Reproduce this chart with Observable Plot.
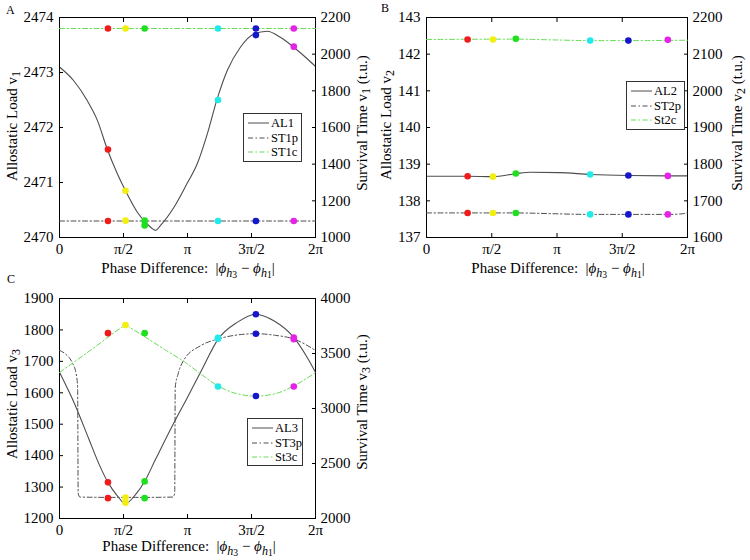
<!DOCTYPE html>
<html><head><meta charset="utf-8">
<script src="https://cdn.jsdelivr.net/npm/d3@7"></script>
<script src="https://cdn.jsdelivr.net/npm/@observablehq/plot@0.6"></script>
<style>
html,body{margin:0;padding:0;background:#fff}
#root{position:relative;width:750px;height:560px;overflow:hidden;font-family:"Liberation Serif","Times New Roman",serif;color:#000;background:#fff}
.panel{position:absolute;width:375px;height:280px}
.panel > svg{position:absolute;left:0;top:0}
.lbl{position:absolute;white-space:nowrap;font-size:15px;line-height:15px;transform:translate(-50%,-50%)}
.rot{transform:translate(-50%,-50%) rotate(-90deg)}
sub{font-size:80%;vertical-align:-0.3em;line-height:0}
sub sub{font-size:80%;vertical-align:-0.2em}
.legend{position:absolute;border:1px solid #333;background:#fff;font-size:12.5px;line-height:14px;padding:2px 3px 0 4px;box-sizing:border-box}
.legend .row{display:flex;align-items:center;height:14.5px;white-space:nowrap}
.legend svg{position:static;margin-right:2px;flex:none}
.tag{position:absolute;font-size:12px;line-height:12px}
</style></head>
<body>
<div id="root"></div>
<script>
const TAU = 2 * Math.PI;
const xTickVals = [0, Math.PI / 2, Math.PI, 3 * Math.PI / 2, 2 * Math.PI];
const xTickLabels = ["0", "π/2", "π", "3π/2", "2π"];
const markerColors = ["#ee1c1c", "#f2ee10", "#1ee01e", "#22eaea", "#1616cc", "#e622e6"];

// ---------- Panel A ----------
const aDotX = [1.19, 1.62, 2.09, 3.89, 4.82, 5.75];
const aAlX = [0, 0.35, 0.68, 0.93, 1.17, 1.42, 1.62, 1.91, 2.11, 2.28, 2.36, 2.48, 2.81, 3.13, 3.38, 3.63, 3.87, 4.12, 4.44, 4.77, 5.10, 5.42, 5.75, 6.08, 6.283];
const aAlY = [2473.10, 2472.85, 2472.49, 2472.13, 2471.61, 2471.16, 2470.85, 2470.46, 2470.28, 2470.16, 2470.13, 2470.22, 2470.55, 2470.98, 2471.34, 2471.89, 2472.52, 2473.04, 2473.46, 2473.70, 2473.75, 2473.64, 2473.46, 2473.25, 2473.11];
const aAlDots = [2471.6, 2470.85, 2470.22, 2472.5, 2473.68, 2473.47];
const aStpX = [0, 6.283];
const aStpY = [1090, 1090];
const aStcX = [0, 6.283];
const aStcY = [2140, 2140];
const aStpDots = [1090, 1092, 1092, 1090, 1090, 1090];
const aStcDots = [2140, 2140, 2140, 2140, 2140, 2140];

// ---------- Panel B ----------
const bDotX = [0.99, 1.60, 2.15, 3.94, 4.86, 5.81];
const bAlX = [0, 0.99, 1.60, 2.15, 2.5, 3.2, 3.94, 4.86, 5.81, 6.283];
const bAlY = [138.67, 138.67, 138.66, 138.74, 138.78, 138.77, 138.72, 138.69, 138.68, 138.68];
const bAlDots = [138.67, 138.66, 138.745, 138.72, 138.69, 138.68];
const bStpX = [0, 2.15, 3.0, 3.94, 4.86, 5.81, 6.1, 6.283];
const bStpY = [1667, 1667, 1665, 1663, 1663, 1663, 1664, 1667];
const bStcX = [0, 2.15, 3.0, 3.94, 4.86, 6.283];
const bStcY = [2140, 2141, 2139, 2137, 2137, 2138];
const bStpDots = [1667, 1667, 1667, 1663, 1663, 1663];
const bStcDots = [2140, 2140, 2142, 2137, 2137, 2139];

// ---------- Panel C ----------
const cDotX = [1.19, 1.62, 2.09, 3.89, 4.82, 5.75];
const cAlX = [0, 0.39, 0.72, 0.97, 1.19, 1.42, 1.62, 1.87, 2.09, 2.36, 2.85, 3.14, 3.5, 3.89, 4.36, 4.82, 5.26, 5.75, 6.08, 6.283];
const cAlY = [1665, 1559, 1453, 1373, 1315, 1272, 1247, 1277, 1318, 1389, 1515, 1585, 1675, 1770, 1824, 1850, 1829, 1776, 1712, 1665];
const cAlDots = [1315, 1250, 1318, 1775, 1850, 1776];
const cStpX = [0, 0.15, 0.31, 0.41, 0.445, 0.458, 0.50, 1.19, 2.09, 2.78, 2.828, 2.84, 2.91, 3.05, 3.46, 3.89, 4.35, 4.82, 5.3, 5.75, 6.283];
const cStpY = [3528, 3495, 3418, 3313, 3191, 2230, 2195, 2192, 2192, 2195, 2230, 3191, 3313, 3440, 3570, 3632, 3668, 3680, 3665, 3632, 3528];
const cStcX = [0, 0.8, 1.5, 1.62, 1.75, 2.6, 3.09, 3.5, 3.89, 4.35, 4.82, 5.3, 5.75, 6.05, 6.283];
const cStcY = [3327, 3540, 3730, 3758, 3730, 3532, 3418, 3305, 3205, 3135, 3113, 3135, 3205, 3270, 3327];
const cStpDots = [2185, 2190, 2185, 3635, 3680, 3630];
const cStcDots = [3685, 3758, 3685, 3200, 3113, 3200];

const dashDot = "5,2.5,1.5,2.5";
const alColor = "#4d4d4d";
const stpColor = "#4d4d4d";
const stcColor = "#66dd55";

function zip(xs, ys) { return xs.map((x, i) => ({x, y: ys[i]})); }
function dots(xs, ys) { return xs.map((x, i) => ({x, y: ys[i], c: markerColors[i]})); }

const root = document.getElementById("root");

function addLabel(html, cx, cy, rotate) {
  const d = document.createElement("div");
  d.className = "lbl" + (rotate ? " rot" : "");
  d.style.left = cx + "px"; d.style.top = cy + "px";
  d.innerHTML = html;
  root.appendChild(d);
}
function addTag(text, x, y) {
  const d = document.createElement("div");
  d.className = "tag"; d.style.left = x + "px"; d.style.top = y + "px";
  d.textContent = text; root.appendChild(d);
}
function swatch(kind) {
  const ns = "http://www.w3.org/2000/svg";
  const s = document.createElementNS(ns, "svg");
  s.setAttribute("width", 21); s.setAttribute("height", 8);
  const l = document.createElementNS(ns, "line");
  l.setAttribute("x1", 0); l.setAttribute("x2", 21); l.setAttribute("y1", 4); l.setAttribute("y2", 4);
  l.setAttribute("stroke-width", 1);
  if (kind === 0) l.setAttribute("stroke", alColor);
  else { l.setAttribute("stroke", kind === 1 ? stpColor : stcColor); l.setAttribute("stroke-dasharray", dashDot); }
  s.appendChild(l);
  return s;
}
function addLegend(holder, names, left, top, w, h) {
  const d = document.createElement("div");
  d.className = "legend";
  d.style.left = left + "px"; d.style.top = top + "px"; d.style.width = w + "px"; d.style.height = h + "px";
  names.forEach((n, i) => {
    const r = document.createElement("div"); r.className = "row";
    r.appendChild(swatch(i));
    const t = document.createElement("span"); t.textContent = n; r.appendChild(t);
    d.appendChild(r);
  });
  holder.appendChild(d);
}

function buildPanel(cfg) {
  const holder = document.createElement("div");
  holder.className = "panel";
  holder.style.left = cfg.left + "px"; holder.style.top = cfg.top + "px";
  const base = {
    width: 375, height: 280,
    marginLeft: cfg.ml, marginRight: cfg.mr, marginTop: cfg.mt, marginBottom: cfg.mb,
    style: {background: "transparent", fontFamily: '"Liberation Serif", "Times New Roman", serif', fontSize: "15px", color: "#000", overflow: "visible"},
    color: {type: "identity"}
  };
  const p1 = Plot.plot({
    ...base,
    x: {domain: [0, TAU]},
    y: {domain: cfg.lDomain},
    marks: [
      Plot.line(zip(cfg.alX, cfg.alY), {x: "x", y: "y", stroke: alColor, strokeWidth: 1.1, curve: "monotone-x"}),
      Plot.axisX({ticks: xTickVals, tickFormat: d => xTickLabels[Math.round(d / (Math.PI / 2))], tickSize: -4, tickPadding: 10, label: null}),
      Plot.axisX({anchor: "top", ticks: xTickVals, tickFormat: () => "", tickSize: -4, label: null}),
      Plot.axisY({ticks: cfg.lTicks, tickFormat: "d", tickSize: -4, tickPadding: 10, label: null}),
      Plot.frame({stroke: "#000"})
    ]
  });
  const p2 = Plot.plot({
    ...base,
    x: {domain: [0, TAU], axis: null},
    y: {domain: cfg.rDomain},
    marks: [
      Plot.line(zip(cfg.stpX, cfg.stpY), {x: "x", y: "y", stroke: stpColor, strokeWidth: 1, strokeDasharray: dashDot, curve: "monotone-x"}),
      Plot.line(zip(cfg.stcX, cfg.stcY), {x: "x", y: "y", stroke: stcColor, strokeWidth: 1, strokeDasharray: dashDot, curve: "monotone-x"}),
      Plot.axisY({anchor: "right", ticks: cfg.rTicks, tickFormat: "d", tickSize: -4, tickPadding: 9, label: null}),
      Plot.dot(dots(cfg.dotX, cfg.stpDots), {x: "x", y: "y", fill: "c", r: 3.3}),
      Plot.dot(dots(cfg.dotX, cfg.stcDots), {x: "x", y: "y", fill: "c", r: 3.3})
    ]
  });
  const p3 = Plot.plot({
    ...base,
    x: {domain: [0, TAU], axis: null},
    y: {domain: cfg.lDomain, axis: null},
    marks: [
      Plot.dot(dots(cfg.dotX, cfg.alDots), {x: "x", y: "y", fill: "c", r: 3.3})
    ]
  });
  holder.appendChild(p1); holder.appendChild(p2); holder.appendChild(p3);
  addLegend(holder, cfg.names, cfg.lg[0], cfg.lg[1], cfg.lg[2], cfg.lg[3]);
  root.appendChild(holder);
}

buildPanel({
  left: 0, top: 0, ml: 59, mr: 60, mt: 17, mb: 43,
  lDomain: [2470, 2474], lTicks: [2470, 2471, 2472, 2473, 2474],
  rDomain: [1000, 2200], rTicks: [1000, 1200, 1400, 1600, 1800, 2000, 2200],
  alX: aAlX, alY: aAlY, stpX: aStpX, stpY: aStpY, stcX: aStcX, stcY: aStcY,
  dotX: aDotX, alDots: aAlDots, stpDots: aStpDots, stcDots: aStcDots,
  names: ["AL1", "ST1p", "ST1c"], lg: [243, 113, 59, 49]
});
buildPanel({
  left: 375, top: 0, ml: 51, mr: 63, mt: 17, mb: 43,
  lDomain: [137, 143], lTicks: [137, 138, 139, 140, 141, 142, 143],
  rDomain: [1600, 2200], rTicks: [1600, 1700, 1800, 1900, 2000, 2100, 2200],
  alX: bAlX, alY: bAlY, stpX: bStpX, stpY: bStpY, stcX: bStcX, stcY: bStcY,
  dotX: bDotX, alDots: bAlDots, stpDots: bStpDots, stcDots: bStcDots,
  names: ["AL2", "ST2p", "St2c"], lg: [251, 81, 59, 49]
});
buildPanel({
  left: 0, top: 280, ml: 59, mr: 60, mt: 18, mb: 42,
  lDomain: [1200, 1900], lTicks: [1200, 1300, 1400, 1500, 1600, 1700, 1800, 1900],
  rDomain: [2000, 4000], rTicks: [2000, 2500, 3000, 3500, 4000],
  alX: cAlX, alY: cAlY, stpX: cStpX, stpY: cStpY, stcX: cStcX, stcY: cStcY,
  dotX: cDotX, alDots: cAlDots, stpDots: cStpDots, stcDots: cStcDots,
  names: ["AL3", "ST3p", "St3c"], lg: [247, 138, 56, 48]
});

const xLabel = 'Phase Difference:&nbsp; |<i>ϕ</i><sub><i>h</i><sub>3</sub></sub> − <i>ϕ</i><sub><i>h</i><sub>1</sub></sub>|';
addLabel(xLabel, 188, 268, false);
addLabel(xLabel, 558, 268, false);
addLabel(xLabel, 189, 546, false);
addLabel('Allostatic Load v<sub>1</sub>', 12, 126, true);
addLabel('Survival Time v<sub>1</sub> (t.u.)', 362, 123, true);
addLabel('Allostatic Load v<sub>2</sub>', 386, 125, true);
addLabel('Survival Time v<sub>2</sub> (t.u.)', 737, 123, true);
addLabel('Allostatic Load v<sub>3</sub>', 12, 404, true);
addLabel('Survival Time v<sub>3</sub> (t.u.)', 362, 402, true);
addTag("A", 6, 4);
addTag("B", 381, 2);
addTag("C", 7, 273);
</script>
</body></html>
